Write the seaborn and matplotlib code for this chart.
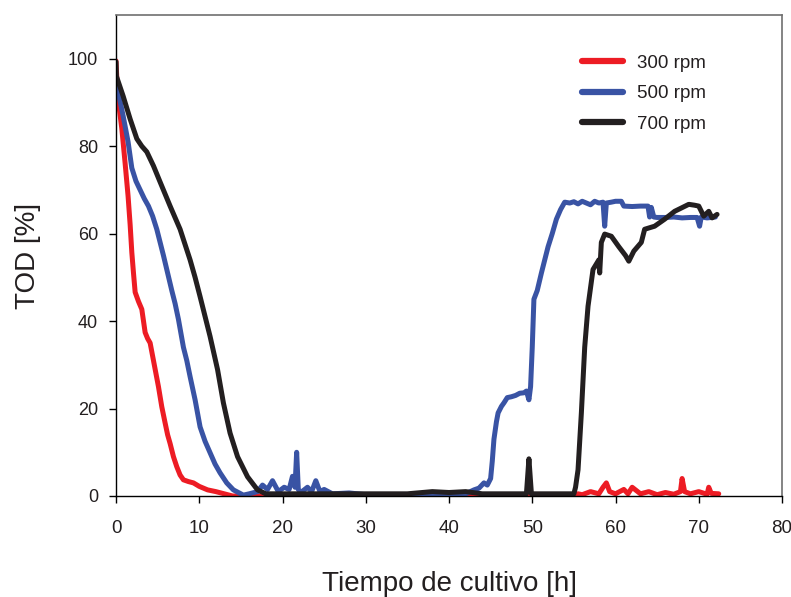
import matplotlib
matplotlib.use("Agg")
import matplotlib.pyplot as plt
import seaborn as sns
import pandas as pd
from matplotlib.lines import Line2D

# ---- data ----
series_names = ["300 rpm", "500 rpm", "700 rpm"]
series_colors = ["#ED1C24", "#3953A4", "#231F20"]

red_points = [(0, 99.5), (0.2, 91.5), (0.7, 84), (1.1, 76), (1.45, 68.6), (1.7, 62), (1.9, 55.7),
              (2.1, 51), (2.3, 46.6), (2.7, 44.5), (3.1, 42.7), (3.5, 37.4), (3.8, 36), (4.1, 35),
              (4.5, 31), (4.8, 28), (5.1, 25), (5.5, 20.4), (5.9, 16.7), (6.2, 14), (6.5, 12),
              (6.9, 9), (7.3, 6.7), (7.7, 4.8), (8.1, 3.7), (8.7, 3.3), (9.3, 3), (10, 2.2),
              (11, 1.4), (12, 1), (13, 0.5), (13.4, 0.3), (14, 0), (20, 0), (30, 0), (40, 0),
              (50, 0), (55, 0), (55.5, 0.5), (56, 0.3), (57, 1), (58, 0.5), (58.5, 2), (58.9, 3),
              (59.3, 1), (60, 0.5), (61, 1.5), (61.5, 0.5), (62, 2), (63, 0.5), (64, 1),
              (65, 0.3), (66, 0.8), (67, 0.4), (67.8, 1), (68, 4), (68.3, 1), (69, 0.5), (70, 1),
              (71, 0.4), (71.2, 2), (71.5, 0.6), (72.4, 0.5)]

blue_points = [(0, 95), (0.3, 92), (0.85, 87), (1.45, 81), (1.9, 75), (2.4, 72), (2.9, 70), (3.4, 68),
               (3.9, 66.3), (4.4, 64), (4.9, 61), (5.3, 58), (5.7, 55), (6.1, 51.8), (6.7, 47),
               (7.1, 44), (7.5, 40.4), (8.1, 34), (8.5, 31), (8.9, 27.3), (9.5, 22), (10.1, 15.8),
               (10.7, 12.5), (11.3, 9.9), (11.9, 7.3), (12.5, 5.3), (13.3, 3), (14.1, 1.4),
               (15.3, 0.2), (16, 0.5), (17, 1), (17.6, 2.5), (18.2, 1.5), (18.8, 3.5), (19.5, 1),
               (20.2, 2), (20.8, 1.5), (21.2, 4.5), (21.5, 2), (21.7, 10), (21.9, 1.5), (22.2, 0.8),
               (23, 2), (23.5, 1), (24, 3.5), (24.5, 1), (25, 1.5), (26, 0.5), (28, 0.7), (30, 0.3),
               (35, 0.3), (40, 0.3), (42, 0.5), (43, 1.4), (43.6, 1.8), (44.2, 3), (44.6, 2.5),
               (45, 4), (45.2, 8), (45.4, 13), (45.7, 17), (45.9, 19), (46.3, 20.5), (46.6, 21.3),
               (47, 22.5), (47.5, 22.7), (48, 23), (48.5, 23.5), (49, 23.6), (49.3, 24), (49.6, 22),
               (49.8, 25), (50, 34), (50.2, 45), (50.6, 47), (51.1, 51), (51.5, 54), (51.9, 57),
               (52.4, 60), (52.9, 63.3), (53.4, 65.5), (53.9, 67.2), (54.5, 67), (55, 67.3),
               (55.5, 66.8), (56, 67.4), (56.5, 67), (57, 66.6), (57.5, 67.4), (58, 67),
               (58.5, 67.2), (58.7, 61.7), (58.9, 67), (59.5, 67.2), (60, 67.4), (60.7, 67.4),
               (61, 66.3), (62, 66.2), (63, 66.3), (63.9, 66.3), (64.1, 63.8), (64.3, 66),
               (64.6, 63.8), (65, 63.7), (66, 63.7), (67, 63.8), (68, 63.6), (69, 63.7),
               (69.8, 63.7), (70.1, 61.7), (70.3, 63.8), (71, 63.6), (72, 63.8)]

black_points = [(0, 99.3), (0.05, 96), (0.85, 91.5), (1.7, 86.2), (2.5, 81.7), (3.1, 80), (3.7, 78.7),
                (4.5, 75.5), (5.3, 71.8), (6.5, 66.3), (7.7, 61), (8.9, 54), (9.5, 50), (10.1, 45.6),
                (11.3, 36.5), (12.2, 28.9), (12.9, 21.3), (13.7, 14.4), (14.6, 9), (15.8, 4.4),
                (17, 1.4), (18, 0.5), (25, 0.5), (35, 0.5), (38, 1), (40, 0.8), (42, 1), (44, 0.5),
                (49.3, 0.5), (49.6, 8.5), (49.9, 0.5), (55, 0.5), (55.2, 2), (55.5, 6), (55.9, 19),
                (56.3, 34), (56.7, 43.4), (57.3, 51.8), (58, 54), (58.1, 51), (58.3, 58),
                (58.7, 59.9), (59.5, 59.4), (60.4, 57), (61.2, 55), (61.6, 53.7), (62.2, 56),
                (63.1, 58), (63.5, 61), (64.7, 61.7), (65.9, 63.3), (67.1, 65.1), (68.8, 66.7),
                (69.5, 66.5), (70, 66.3), (70.6, 64), (71.2, 65.1), (71.6, 63.6), (72.2, 64.4)]

x_ticks = [0, 10, 20, 30, 40, 50, 60, 70, 80]
y_ticks = [0, 20, 40, 60, 80, 100]

# ---- build long table ----
rows = []
for name, pts in zip(series_names, [red_points, blue_points, black_points]):
    for i, (t, v) in enumerate(pts):
        rows.append({"t": t, "tod": v, "rpm": name, "order": i})
df = pd.DataFrame(rows)

sns.set_theme(style="ticks")
plt.rcParams["font.family"] = ["Liberation Sans", "DejaVu Sans"]

fig = plt.figure(figsize=(7.91, 5.97), dpi=100)
ax = fig.add_axes([116 / 791, 1 - 496 / 597, 666 / 791, 481 / 597])

sns.lineplot(data=df, x="t", y="tod", hue="rpm", hue_order=series_names,
             palette=dict(zip(series_names, series_colors)), units="rpm",
             estimator=None, sort=False, linewidth=3.6, ax=ax, legend=False)

ax.set_xlim(0, 80)
ax.set_ylim(0, 110)
ax.set_xticks(x_ticks)
ax.set_yticks(y_ticks)
ax.set_xticklabels([str(v) for v in x_ticks], fontsize=13.5, color="#231F20")
ax.set_yticklabels([str(v) for v in y_ticks], fontsize=13, color="#231F20")

ax.tick_params(axis="x", direction="out", length=5, width=1, color="black", pad=12)
ax.tick_params(axis="y", direction="out", length=5, width=1, color="black", pad=8)

for s in ["left", "bottom"]:
    ax.spines[s].set_color("black")
    ax.spines[s].set_linewidth(1)
for s in ["top", "right"]:
    ax.spines[s].set_visible(True)
    ax.spines[s].set_color("#707070")
    ax.spines[s].set_linewidth(1.2)

ax.set_xlabel("Tiempo de cultivo [h]", fontsize=20, labelpad=25, color="#231F20")
ax.set_ylabel("TOD [%]", fontsize=20, labelpad=19, color="#231F20")

handles = [Line2D([0], [0], color=c, lw=4.5) for c in series_colors]
ax.legend(handles, series_names, loc="upper left", bbox_to_anchor=(0.70, 0.918),
          frameon=False, fontsize=13.5, handlelength=2.2, handletextpad=0.7,
          labelspacing=0.72, borderpad=0, borderaxespad=0, labelcolor="#231F20")

ax.grid(False)
fig.savefig("out.png", dpi=100)
